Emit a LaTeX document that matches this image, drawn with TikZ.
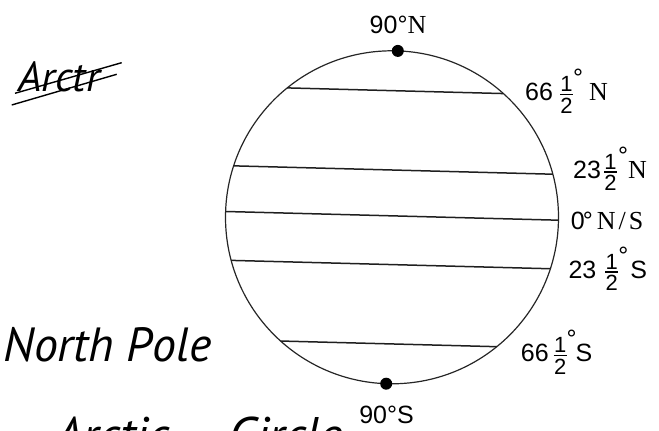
\documentclass[tikz,border=0pt]{standalone}
\usepackage{fontspec}
\setmainfont{Liberation Sans}
\newfontfamily\serifN{Liberation Serif}
\newfontfamily\hand{PT Sans}
\newcommand\fr{\makebox[13pt]{\fontsize{22}{22}\selectfont\rlap{\raisebox{9pt}{\makebox[13pt]{1}}}\rlap{\raisebox{-12.6pt}{\makebox[13pt]{2}}}\raisebox{5.7pt}{\rule{13pt}{1.4pt}}}}
\newcommand\lat[5]{#1\kern#2\fr\kern#3\raisebox{14pt}{°}\kern#4#5}
\newcommand\Nser{{\serifN\fontsize{26}{26}\selectfont N}}
\begin{document}
\begin{tikzpicture}[x=1pt,y=1pt]
\tikzset{
 lat/.style={line width=1.5pt, draw=black!88},
 dotm/.style={circle, fill=black, inner sep=0pt, minimum size=12pt},
 lbl/.style={inner sep=0pt, font=\fontsize{25}{25}\selectfont},
 hw/.style={inner sep=0pt},
 hwsmall/.style={font=\hand\itshape\fontsize{42}{42}\selectfont},
 hwbig/.style={font=\hand\itshape\fontsize{48}{48}\selectfont},
 hwhuge/.style={font=\hand\itshape\fontsize{50}{50}\selectfont},
 strike/.style={line width=1.4pt, draw=black}
}
\useasboundingbox (0,0) rectangle (659,431);
\clip (0,0) rectangle (659,431);
\node[draw=black!85, circle, minimum size=333pt, inner sep=0pt, outer sep=0pt, line width=1.2pt] (globe) at (392,213.7) {};
% latitude lines
\draw[lat] (globe.129.3) -- (globe.48.1);
\draw[lat] (globe.162.1) -- (globe.15.8);
\draw[lat] (globe.178.9) -- (globe.359.1);
\draw[lat] (globe.195.5) -- (globe.342.7);
\draw[lat] (globe.228.05) -- (globe.309.4);
% poles
\node[dotm] (np) at (globe.88.7) {};
\node[dotm] (sp) at (globe.268.4) {};
% labels
\node[lbl, anchor=base] (tN) at (398,397.7) {90°\Nser};
\node[lbl, anchor=base] (tS) at (386.5,7.7) {90°S};
\node[lbl, anchor=base west] (l1) at (525,330.3) {\lat{66}{7pt}{0pt}{6pt}{\Nser}};
\node[lbl, anchor=base west] (l2) at (573,252.7) {\lat{23}{3pt}{1pt}{0pt}{\Nser}};
\node[lbl, anchor=base west] (l3) at (570.7,201) {0\kern-2pt°\kern4pt{\serifN\fontsize{26}{26}\selectfont N\kern3pt/\kern3pt S}};
\node[lbl, anchor=base west] (l4) at (568.3,152.7) {\lat{23}{9pt}{0pt}{2pt}{S}};
\node[lbl, anchor=base west] (l5) at (520.7,69.3) {\lat{66}{5pt}{0pt}{-1pt}{S}};
% handwriting
\node[hw, hwsmall, anchor=base west] (arc) at (18,339) {Arctr};
\coordinate (s1a) at (15,337.7); \coordinate (s1b) at (121.7,368.3);
\coordinate (s2a) at (11.7,326); \coordinate (s2b) at (116.7,356.7);
\draw[strike] (s1a) -- (s1b);
\draw[strike] (s2a) -- (s2b);
\node[hw, hwbig, anchor=base west] (npole) at (3,69.3) {North Pole};
\node[hw, hwhuge, anchor=base west] (acirc) at (55,-22) {Arctic\hspace{60pt}Circle};
\end{tikzpicture}
\end{document}
